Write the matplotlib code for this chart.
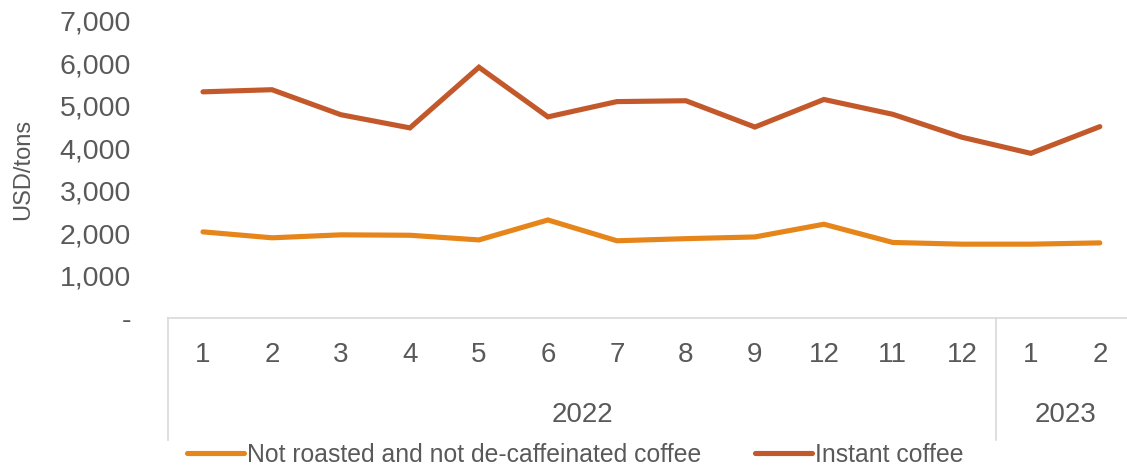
import matplotlib.pyplot as plt
from matplotlib.ticker import FuncFormatter

months = ["1", "2", "3", "4", "5", "6", "7", "8", "9", "12", "11", "12", "1", "2"]
years = ["2022", "2023"]
year_counts = [12, 2]
not_roasted = [2030, 1890, 1960, 1950, 1840, 2310, 1820, 1870, 1910, 2210, 1780, 1740, 1740, 1770]
instant = [5330, 5380, 4790, 4480, 5910, 4740, 5100, 5120, 4500, 5150, 4800, 4260, 3880, 4510]

text_grey = "#595959"
rule_grey = "#D9D9D9"
plt.rcParams["font.family"] = ["Liberation Sans", "DejaVu Sans"]

fig = plt.figure(figsize=(11.27, 4.66), dpi=100)
ax = fig.add_axes([0.1495, 0.3176, 0.857, 0.6374])

x = list(range(len(months)))
ax.plot(x, not_roasted, color="#E6851A", lw=3.7, solid_capstyle="round",
        solid_joinstyle="miter", label="Not roasted and not de-caffeinated coffee")
ax.plot(x, instant, color="#C3592B", lw=3.7, solid_capstyle="round",
        solid_joinstyle="miter", label="Instant coffee")

ax.set_xlim(-0.5, len(months) - 0.5)
ax.set_ylim(0, 7000)
ax.set_yticks(range(0, 7001, 1000))
ax.yaxis.set_major_formatter(FuncFormatter(lambda v, p: "-" if v == 0 else f"{int(v):,}"))
ax.tick_params(axis="y", length=0, pad=27, labelsize=20.5, labelcolor=text_grey)
ax.set_xticks([])
for s in ["top", "right", "left"]:
    ax.spines[s].set_visible(False)
ax.spines["bottom"].set_color(rule_grey)
ax.spines["bottom"].set_linewidth(1.2)
ax.set_ylabel("USD/tons", fontsize=17, color=text_grey, labelpad=18)

# two-level category axis: months, then years with separators
for i, m in enumerate(months):
    ax.text(i, -0.125, m, transform=ax.get_xaxis_transform(), ha="center", va="center",
            fontsize=20, color=text_grey)

start = 0
ax.plot([-0.5, -0.5], [0, -0.41], transform=ax.get_xaxis_transform(), color=rule_grey,
        lw=1.2, clip_on=False)
for yr, n in zip(years, year_counts):
    end = start + n
    ax.text((start + end - 1) / 2, -0.327, yr, transform=ax.get_xaxis_transform(),
            ha="center", va="center", fontsize=20, color=text_grey)
    ax.plot([end - 0.5, end - 0.5], [0, -0.41], transform=ax.get_xaxis_transform(),
            color=rule_grey, lw=1.2, clip_on=False)
    start = end

leg = fig.legend(loc="center left", bbox_to_anchor=(187 / 1127, 11 / 466), ncol=2,
                 frameon=False, fontsize=17.8, handlelength=2.3, handletextpad=0.12,
                 columnspacing=2.2, borderpad=0, borderaxespad=0)
for t in leg.get_texts():
    t.set_color(text_grey)

fig.savefig("out.png", dpi=100)
